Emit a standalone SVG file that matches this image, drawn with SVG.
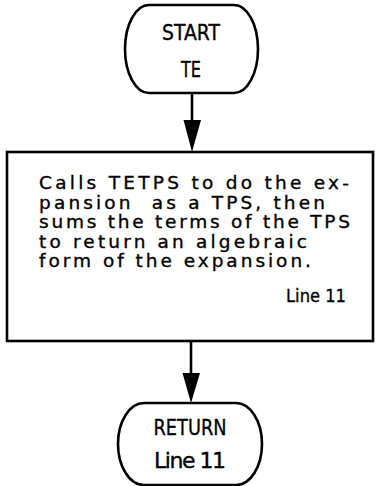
<svg xmlns="http://www.w3.org/2000/svg" width="377" height="486" viewBox="0 0 377 486">
  <style>
    .shape { fill: #ffffff; stroke: #000000; stroke-width: 2.6; }
    .edge { stroke: #000000; stroke-width: 2.6; fill: none; }
    .head { fill: #000000; stroke: none; }
    .t { font-family: "DejaVu Sans", "Liberation Sans", sans-serif; font-size: 18.5px; fill: #000000; stroke: #000000; stroke-width: 0.35; }
    .term { font-family: "DejaVu Sans", "Liberation Sans", sans-serif; font-size: 22px; fill: #000000; stroke: #000000; stroke-width: 0.35; text-anchor: middle; }
  </style>
  <rect width="377" height="486" fill="#ffffff"/>

  <!-- connectors -->
  <g id="connectors">
    <line class="edge" x1="192" y1="93" x2="192" y2="122"/>
    <polygon class="head" points="183.5,120 201,120 192,152"/>
    <line class="edge" x1="191" y1="341" x2="191" y2="375"/>
    <polygon class="head" points="182.5,373 200,373 191,403"/>
  </g>

  <!-- start terminal -->
  <g id="start">
    <path class="shape" d="M149,5 H234 A24 44 0 0 1 234,93 H149 A24 44 0 0 1 149,5 Z"/>
    <text class="term" x="191" y="40" textLength="58" lengthAdjust="spacingAndGlyphs">START</text>
    <text class="term" x="191" y="77" textLength="20" lengthAdjust="spacingAndGlyphs">TE</text>
  </g>

  <!-- process box -->
  <g id="process">
    <rect class="shape" x="7" y="152" width="366" height="189"/>
    <text class="t" x="39" y="189" textLength="310" lengthAdjust="spacing">Calls TETPS to do the ex-</text>
    <text class="t" x="39" y="208.5" textLength="286" lengthAdjust="spacing" xml:space="preserve">pansion  as a TPS, then</text>
    <text class="t" x="39" y="228" textLength="311" lengthAdjust="spacing">sums the terms of the TPS</text>
    <text class="t" x="39" y="247.5" textLength="268" lengthAdjust="spacing">to return an algebraic</text>
    <text class="t" x="39" y="267" textLength="272" lengthAdjust="spacing">form of the expansion.</text>
    <text class="t" x="286" y="302" textLength="60" lengthAdjust="spacingAndGlyphs">Line 11</text>
  </g>

  <!-- return terminal -->
  <g id="return">
    <path class="shape" d="M144,403 H236 A26 41 0 0 1 236,485 H144 A26 41 0 0 1 144,403 Z"/>
    <text class="term" x="190" y="435" textLength="73" lengthAdjust="spacingAndGlyphs">RETURN</text>
    <text class="term" x="190" y="468" textLength="72" lengthAdjust="spacing">Line 11</text>
  </g>
</svg>
